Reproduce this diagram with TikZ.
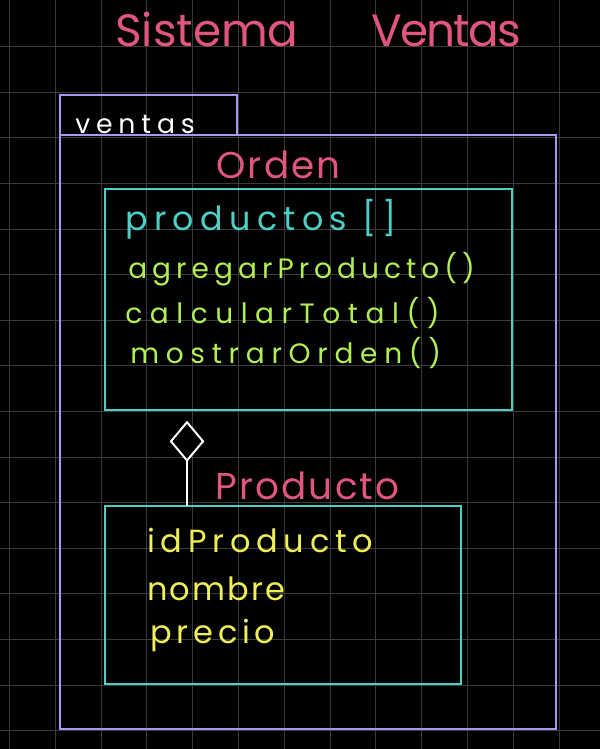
\documentclass[tikz,border=0pt]{standalone}
\usepackage{fontspec}
\setmainfont{Poppins}
\newfontfamily\hand{Poppins}
\usetikzlibrary{arrows.meta,positioning}
\definecolor{umlpink}{HTML}{E0567F}
\definecolor{umlpurple}{HTML}{A898EE}
\definecolor{umlcyan}{HTML}{4CCFC6}
\definecolor{umlgreen}{HTML}{B2EF55}
\definecolor{umlyellow}{HTML}{EFEF5A}
\definecolor{umlgrid}{HTML}{3A3A3A}
\newcommand\handsize[2]{\hand\fontsize{#1}{#1}\selectfont\addfontfeature{LetterSpace=#2}}
\tikzset{
  gridline/.style={umlgrid,line width=.75pt},
  pkg/.style={draw=umlpurple,line width=1.5pt,inner sep=0pt,outer sep=0pt,anchor=north west},
  classbox/.style={draw=umlcyan,line width=1.5pt,inner sep=0pt,outer sep=0pt,anchor=north west},
  txt/.style={anchor=base west,inner sep=0pt},
  title/.style={txt,text=umlpink,font=\handsize{34pt}{#1}},
  pkgname/.style={txt,text=white,font=\handsize{20pt}{22}},
  classname/.style={txt,text=umlpink,font=\handsize{28pt}{6}},
  attr/.style={txt,text=umlcyan,font=\handsize{25pt}{19}},
  oper/.style={txt,text=umlgreen,font=\handsize{21pt}{#1}},
  field/.style={txt,text=umlyellow,font=\handsize{24pt}{#1}},
  aggr/.style={white,line width=1.5pt,-{Diamond[open,fill=black,length=31pt,width=26pt]},shorten >=8pt}
}

\begin{document}
\begin{tikzpicture}[x=0.75pt,y=-0.75pt]
  \useasboundingbox[fill=black] (0,0) rectangle (600,749);
  % background grid
  \foreach \i in {0,...,13}
    \draw[gridline] (9.5+45.8*\i,0) -- ++(0,749);
  \foreach \j in {1,...,16}
    \draw[gridline] (0,1+45.6*\j) -- ++(600,0);

  \node[title=0] (sistema) at (115,47) {Sistema};
  \node[title=-4] (ventastitle) at (371,47) {Ventas};

  % package
  \node[pkg,minimum width=132.75pt,minimum height=30pt] (tab) at (60,95) {};
  \node[pkg,minimum width=372pt,minimum height=445.5pt] (pkg) at (60,135) {};
  \node[pkgname] (pkgname) at (75,133) {ventas};

  % class Orden
  \node[classname] (ordenname) at (216,178) {Orden};
  \node[classbox,minimum width=305.25pt,minimum height=165.75pt] (orden) at (105,189) {};
  \node[attr] (productos) at (125,230) {productos []};
  \node[oper=18] (agregar) at (128,278) {agregarProducto()};
  \node[oper=27] (calcular) at (125,323) {calcularTotal()};
  \node[oper=24] (mostrar) at (130,363) {mostrarOrden()};

  % class Producto
  \node[classname] (productoname) at (215,499) {Producto};
  \node[classbox,minimum width=267pt,minimum height=133.5pt] (producto) at (105,506) {};
  \node[field=18] (idproducto) at (147,552) {idProducto};
  \node[field=7] (nombre) at (147,600) {nombre};
  \node[field=15] (precio) at (150,643) {precio};

  \coordinate (aggx) at (187,0);
  \draw[aggr] (producto.north -| aggx) -- (orden.south -| aggx);
\end{tikzpicture}
\end{document}
